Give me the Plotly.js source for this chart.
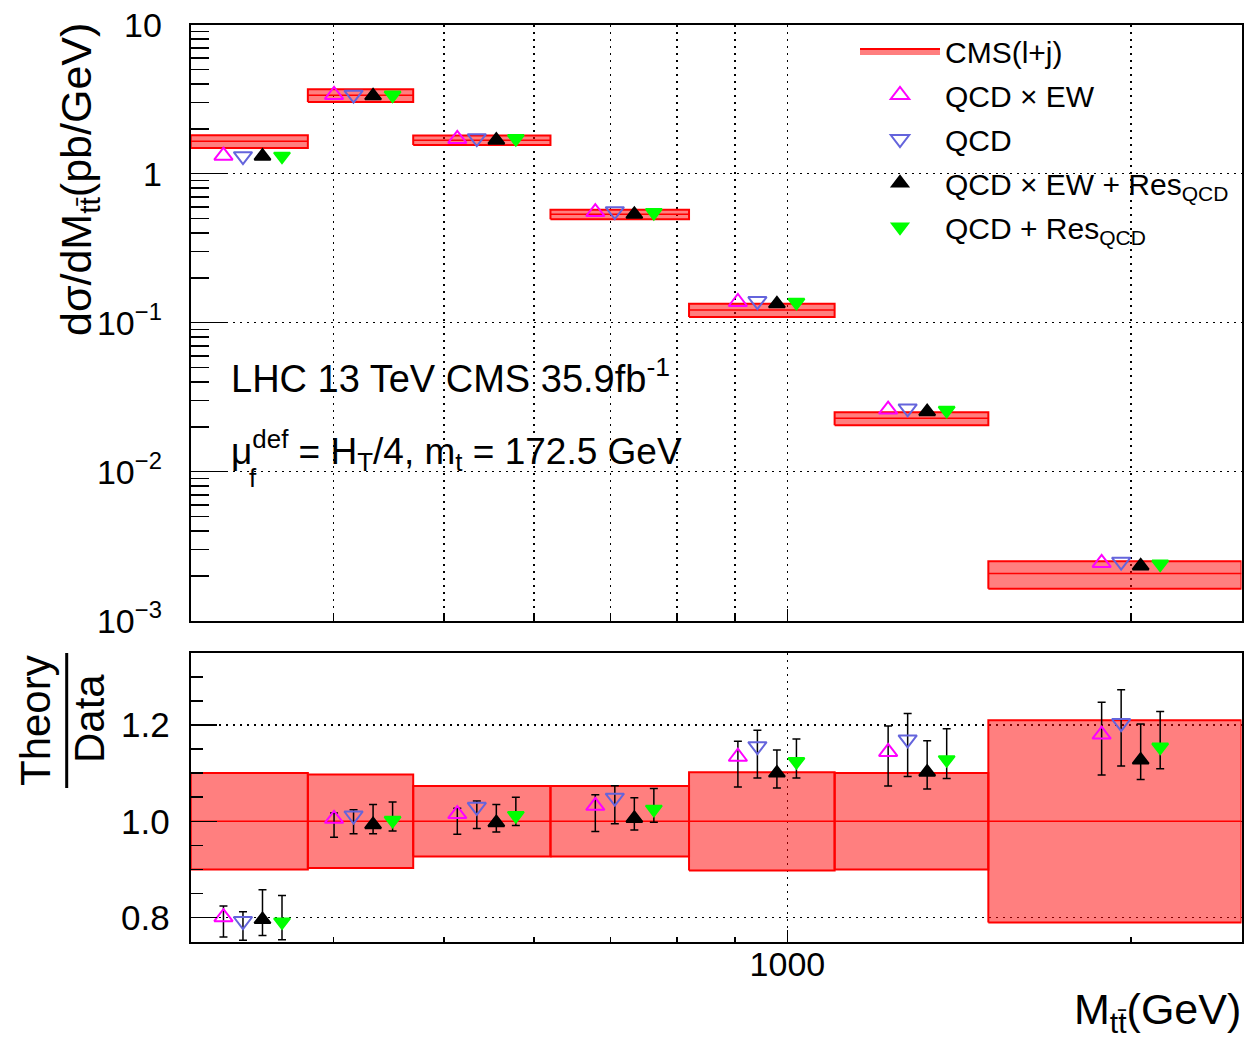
<!DOCTYPE html>
<html>
<head>
<meta charset="utf-8">
<script src="https://cdn.plot.ly/plotly-3.0.1.min.js"></script>
<style>
html,body{margin:0;padding:0;background:#ffffff;}
#chart{width:1247px;height:1041px;}
</style>
</head>
<body>
<div id="chart"></div>
<script>
// ---------------- data ----------------
const binLow  = [300, 380, 470, 620, 820, 1100, 1500];
const binHigh = [380, 470, 620, 820, 1100, 1500, 2500];

// CMS (l+j) measured cross section [pb/GeV] and relative uncertainty
const cmsXsec   = [1.65, 3.36, 1.68, 0.534, 0.1216, 0.0228, 0.00207];
const cmsRelErr = [0.100, 0.097, 0.073, 0.073, 0.102, 0.100, 0.210];

// theory predictions, upper panel [pb/GeV]
const qcdEwXsec    = [1.32, 3.38, 1.71, 0.553, 0.1377, 0.0261, 0.00244];
const qcdXsec      = [1.31, 3.39, 1.73, 0.560, 0.1398, 0.0266, 0.00249];
const qcdEwResXsec = [1.31, 3.33, 1.68, 0.534, 0.1338, 0.0253, 0.00233];
const qcdResXsec   = [1.31, 3.37, 1.72, 0.549, 0.1370, 0.0258, 0.00240];

// theory / data ratios with asymmetric uncertainties
const qcdEwRatio      = [0.801, 1.005, 1.015, 1.032, 1.134, 1.144, 1.180];
const qcdEwRatioUp    = [0.023, 0.012, 0.012, 0.023, 0.032, 0.054, 0.067];
const qcdEwRatioDn    = [0.041, 0.038, 0.042, 0.053, 0.063, 0.071, 0.084];

const qcdRatio        = [0.793, 1.012, 1.030, 1.049, 1.156, 1.170, 1.204];
const qcdRatioUp      = [0.019, 0.012, 0.012, 0.025, 0.033, 0.054, 0.069];
const qcdRatioDn      = [0.040, 0.038, 0.045, 0.054, 0.066, 0.077, 0.089];

const qcdEwResRatio   = [0.796, 0.993, 0.997, 1.006, 1.100, 1.102, 1.127];
const qcdEwResRatioUp = [0.062, 0.042, 0.038, 0.043, 0.048, 0.065, 0.075];
const qcdEwResRatioDn = [0.033, 0.019, 0.019, 0.024, 0.031, 0.035, 0.040];

const qcdResRatio     = [0.791, 1.002, 1.012, 1.025, 1.124, 1.128, 1.154];
const qcdResRatioUp   = [0.055, 0.038, 0.038, 0.043, 0.047, 0.064, 0.074];
const qcdResRatioDn   = [0.037, 0.022, 0.021, 0.027, 0.034, 0.039, 0.045];

// axis tick values / labels
const xMajorTicks = [1000];
const xMinorTicks = [400, 500, 600, 700, 800, 900, 2000];
const yTopTicks   = [0.001, 0.01, 0.1, 1, 10];
const yTopLabels  = ['10<sup>\u22123</sup>', '10<sup>\u22122</sup>', '10<sup>\u22121</sup>', '1', '10'];
const yTopMinor   = [];
[0.001, 0.01, 0.1, 1].forEach(d => { for (let m = 2; m <= 9; m++) yTopMinor.push(d * m); });
const yRatioTicks  = [0.8, 1.0, 1.2];
const yRatioLabels = ['0.8', '1.0', '1.2'];
const yRatioMinor  = [0.75, 0.85, 0.9, 0.95, 1.05, 1.1, 1.15, 1.25, 1.3, 1.35];

// ---------------- styling ----------------
const W = 1247, H = 1041;
const FONT = '"Liberation Sans", Arial, Helvetica, sans-serif';
const px = v => v / W;
const py = v => 1 - v / H;
const plotLeft = 190.7, plotRight = 1241.5;
const topY0 = 24.7, topY1 = 620.7, botY0 = 652.7, botY1 = 941.7;
const markerStep = 0.0171;            // horizontal spread of the four predictions (decades)
const markerSlots = [-1.5, -0.5, 0.5, 1.5];
const BOX_FILL = 'rgba(255,0,0,0.5)', BOX_LINE = '#ff0000';
const GRID_DASH = '2px,5px';
const TICK_SIZE = 34;

const series = [
  {name: 'QCD \u00d7 EW', top: qcdEwXsec, ratio: qcdEwRatio, up: qcdEwRatioUp, dn: qcdEwRatioDn,
   symbol: 'triangle-up-open', color: '#ff00ff', size: 16},
  {name: 'QCD', top: qcdXsec, ratio: qcdRatio, up: qcdRatioUp, dn: qcdRatioDn,
   symbol: 'triangle-down-open', color: '#6464dc', size: 16},
  {name: 'QCD \u00d7 EW + Res<sub>QCD</sub>', top: qcdEwResXsec, ratio: qcdEwResRatio, up: qcdEwResRatioUp, dn: qcdEwResRatioDn,
   symbol: 'triangle-up', color: '#000000', size: 14},
  {name: 'QCD + Res<sub>QCD</sub>', top: qcdResXsec, ratio: qcdResRatio, up: qcdResRatioUp, dn: qcdResRatioDn,
   symbol: 'triangle-down', color: '#00ff00', size: 14}
];

const traces = [];
const centers = binLow.map((lo, i) => (lo + binHigh[i]) / 2);

// CMS boxes, upper panel and ratio panel
binLow.forEach((lo, i) => {
  const hi = binHigh[i];
  const v = cmsXsec[i], e = cmsRelErr[i];
  traces.push({
    type: 'scatter', mode: 'lines', xaxis: 'x', yaxis: 'y',
    x: [lo, hi, hi, lo, lo],
    y: [v * (1 - e), v * (1 - e), v * (1 + e), v * (1 + e), v * (1 - e)],
    fill: 'toself', fillcolor: BOX_FILL, line: {color: BOX_LINE, width: 2},
    name: 'CMS(l+j)', legendgroup: 'cms', showlegend: i === 0, hoverinfo: 'skip'
  });
  traces.push({
    type: 'scatter', mode: 'lines', xaxis: 'x2', yaxis: 'y2',
    x: [lo, hi, hi, lo, lo],
    y: [1 - e, 1 - e, 1 + e, 1 + e, 1 - e],
    fill: 'toself', fillcolor: BOX_FILL, line: {color: BOX_LINE, width: 2},
    legendgroup: 'cms', showlegend: false, hoverinfo: 'skip'
  });
});
// central values
const cx = [], cyTop = [], cyRatio = [];
binLow.forEach((lo, i) => {
  cx.push(lo, binHigh[i], null);
  cyTop.push(cmsXsec[i], cmsXsec[i], null);
  cyRatio.push(cmsXsec[i] / cmsXsec[i], cmsXsec[i] / cmsXsec[i], null);
});
traces.push({type: 'scatter', mode: 'lines', xaxis: 'x', yaxis: 'y', x: cx, y: cyTop,
  line: {color: BOX_LINE, width: 1.5}, showlegend: false, hoverinfo: 'skip', connectgaps: false});
traces.push({type: 'scatter', mode: 'lines', xaxis: 'x2', yaxis: 'y2', x: cx, y: cyRatio,
  line: {color: BOX_LINE, width: 1.5}, showlegend: false, hoverinfo: 'skip', connectgaps: false});

// theory predictions
series.forEach((s, k) => {
  const xs = centers.map(c => c * Math.pow(10, markerSlots[k] * markerStep));
  const mk = {symbol: s.symbol, size: s.size, color: s.color, line: {color: s.color, width: 2}};
  traces.push({
    type: 'scatter', mode: 'markers', xaxis: 'x', yaxis: 'y',
    x: xs, y: s.top, marker: mk, name: s.name, legendgroup: 'g' + k, showlegend: true, hoverinfo: 'skip'
  });
  traces.push({
    type: 'scatter', mode: 'markers', xaxis: 'x2', yaxis: 'y2',
    x: xs, y: s.ratio, marker: mk, legendgroup: 'g' + k, showlegend: false, hoverinfo: 'skip',
    error_y: {type: 'data', symmetric: false, array: s.up, arrayminus: s.dn,
              color: '#000000', thickness: 1.5, width: 4}
  });
});

const xRange = [Math.log10(300), Math.log10(2500)];
const axisCommon = {
  showline: true, linecolor: '#000000', linewidth: 2, mirror: true, zeroline: false,
  ticks: 'inside', tickcolor: '#000000', tickwidth: 1.5, automargin: false,
  gridcolor: '#000000', griddash: GRID_DASH, gridwidth: 1.5,
  tickfont: {family: FONT, size: TICK_SIZE, color: '#000000'}
};

const layout = {
  width: W, height: H, margin: {l: 0, r: 0, t: 0, b: 0},
  paper_bgcolor: '#ffffff', plot_bgcolor: 'rgba(0,0,0,0)',
  font: {family: FONT, color: '#000000', size: 32},
  hovermode: false,
  showlegend: true,
  legend: {
    x: px(855), y: py(25), xanchor: 'left', yanchor: 'top',
    bgcolor: 'rgba(0,0,0,0)', borderwidth: 0,
    font: {family: FONT, size: 30, color: '#000000'},
    traceorder: 'grouped', tracegroupgap: 2, itemwidth: 80
  },
  xaxis: Object.assign({}, axisCommon, {
    domain: [px(plotLeft), px(plotRight)], anchor: 'y', type: 'log', range: xRange,
    tickmode: 'array', tickvals: xMajorTicks, showticklabels: false, ticklen: 12, showgrid: true,
    minor: {tickmode: 'array', tickvals: xMinorTicks, ticks: 'inside', ticklen: 7, tickcolor: '#000000',
            tickwidth: 1.5, showgrid: true, gridcolor: '#000000', griddash: GRID_DASH, gridwidth: 1.5}
  }),
  yaxis: Object.assign({}, axisCommon, {
    domain: [py(topY1), py(topY0)], anchor: 'x', type: 'log', range: [-3, 1],
    tickmode: 'array', tickvals: yTopTicks, ticktext: yTopLabels, ticklen: 35, showgrid: true,
    ticklabelstandoff: 20,
    minor: {tickmode: 'array', tickvals: yTopMinor, ticks: 'inside', ticklen: 18, tickcolor: '#000000',
            tickwidth: 1.5, showgrid: false}
  }),
  xaxis2: Object.assign({}, axisCommon, {
    domain: [px(plotLeft), px(plotRight)], anchor: 'y2', type: 'log', range: xRange,
    tickmode: 'array', tickvals: xMajorTicks, ticktext: ['1000'], showticklabels: true, ticklen: 12,
    showgrid: true, ticklabelstandoff: -9,
    minor: {tickmode: 'array', tickvals: xMinorTicks, ticks: 'inside', ticklen: 5, tickcolor: '#000000',
            tickwidth: 1.5, showgrid: false}
  }),
  yaxis2: Object.assign({}, axisCommon, {
    domain: [py(botY1), py(botY0)], anchor: 'x2', range: [0.75, 1.35],
    tickmode: 'array', tickvals: yRatioTicks, ticktext: yRatioLabels, ticklen: 26, showgrid: true,
    ticklabelstandoff: 12,
    tickfont: {family: FONT, size: 35, color: '#000000'},
    minor: {tickmode: 'array', tickvals: yRatioMinor, ticks: 'inside', ticklen: 12, tickcolor: '#000000',
            tickwidth: 1.5, showgrid: false}
  }),
  annotations: [
    {xref: 'paper', yref: 'paper', x: px(79), y: py(180), xanchor: 'center', yanchor: 'middle',
     text: 'd\u03c3/dM<sub>tt\u0304</sub>(pb/GeV)', textangle: -90, showarrow: false,
     font: {family: FONT, size: 43, color: '#000000'}},
    {xref: 'paper', yref: 'paper', x: px(35), y: py(721), xanchor: 'center', yanchor: 'middle',
     text: 'Theory', textangle: -90, showarrow: false, font: {family: FONT, size: 42, color: '#000000'}},
    {xref: 'paper', yref: 'paper', x: px(89), y: py(719), xanchor: 'center', yanchor: 'middle',
     text: 'Data', textangle: -90, showarrow: false, font: {family: FONT, size: 42, color: '#000000'}},
    {xref: 'paper', yref: 'paper', x: px(1243), y: py(1012), xanchor: 'right', yanchor: 'middle',
     text: 'M<sub>tt\u0304</sub>(GeV)', showarrow: false, font: {family: FONT, size: 43, color: '#000000'}},
    {xref: 'paper', yref: 'paper', x: px(229), y: py(376), xanchor: 'left', yanchor: 'middle',
     text: 'LHC 13 TeV CMS 35.9fb<sup>-1</sup>', showarrow: false, font: {family: FONT, size: 38, color: '#000000'}},
    {xref: 'paper', yref: 'paper', x: px(229), y: py(450), xanchor: 'left', yanchor: 'middle',
     text: '\u03bc<sup>def</sup> = H<sub>T</sub>/4, m<sub>t</sub> = 172.5 GeV', showarrow: false,
     font: {family: FONT, size: 37, color: '#000000'}},
    {xref: 'paper', yref: 'paper', x: px(247), y: py(478), xanchor: 'left', yanchor: 'middle',
     text: 'f', showarrow: false, font: {family: FONT, size: 26, color: '#000000'}}
  ],
  shapes: [
    {type: 'line', xref: 'paper', yref: 'paper', x0: px(66.7), x1: px(66.7), y0: py(653), y1: py(788),
     line: {color: '#000000', width: 3}}
  ]
};

Plotly.newPlot('chart', traces, layout, {staticPlot: true, displayModeBar: false});
</script>
</body>
</html>
